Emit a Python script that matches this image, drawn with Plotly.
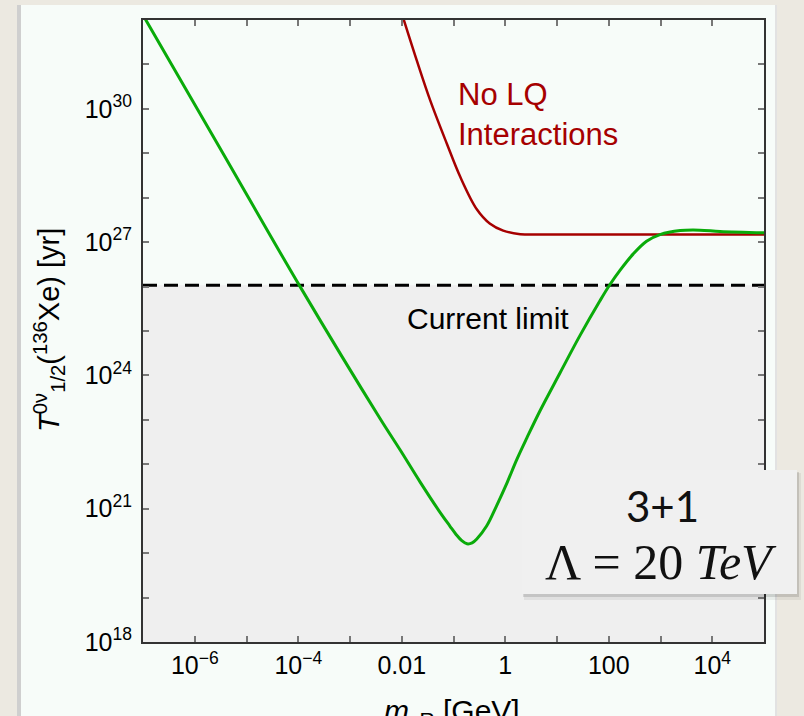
import numpy as np
import plotly.graph_objects as go

# Sterile-neutrino mass [GeV] and 0vbb half-life of 136Xe [yr], stored as log10 values
green_log_mass = [-7.00, -5.45, -3.97, -2.42, -2.03, -1.65, -1.29, -1.07, -0.95, -0.84,
                  -0.74, -0.64, -0.55, -0.36, -0.17, 0.03, 0.22, 0.42, 0.67, 1.06,
                  1.44, 1.83, 2.02, 2.22, 2.47, 2.73, 2.99, 3.38, 3.76, 4.15, 5.00]
green_log_halflife = [32.11, 28.99, 26.01, 23.03, 22.32, 21.61, 20.97, 20.61, 20.42, 20.28,
                      20.21, 20.23, 20.32, 20.61, 21.06, 21.57, 22.10, 22.60, 23.20, 24.06,
                      24.89, 25.68, 26.04, 26.37, 26.73, 27.02, 27.17, 27.26, 27.27, 27.24, 27.21]

red_log_mass = [-2.00, -1.71, -1.45, -1.13, -0.87, -0.55, -0.30, -0.04, 0.29, 0.67,
                2.00, 4.00, 5.00]
red_log_halflife = [32.15, 31.09, 30.19, 29.22, 28.47, 27.74, 27.42, 27.26, 27.18, 27.17,
                    27.17, 27.17, 27.17]

current_limit = 1.07e26          # KamLAND-Zen bound [yr]
mass_range = [1e-7, 1e5]
halflife_floor = 1e18

x_tick_exps = list(range(-6, 5))
x_tick_text = {-6: "10<sup>\u22126</sup>", -4: "10<sup>\u22124</sup>", -2: "0.01",
               0: "1", 2: "100", 4: "10<sup>4</sup>"}
y_tick_exps = list(range(18, 32))
y_tick_text = {18: "10<sup>18</sup>", 21: "10<sup>21</sup>", 24: "10<sup>24</sup>",
               27: "10<sup>27</sup>", 30: "10<sup>30</sup>"}

SANS = "Liberation Sans, Arial, Helvetica, sans-serif"
GREEN = "#0aab0a"
DARKRED = "#a60000"
PANEL = "#f7fcf9"

fig = go.Figure()

# excluded region below the experimental limit
fig.add_trace(go.Scatter(
    x=[mass_range[0], mass_range[1], mass_range[1], mass_range[0]],
    y=[halflife_floor, halflife_floor, current_limit, current_limit],
    fill="toself", fillcolor="#efefef", mode="lines", line=dict(width=0),
    hoverinfo="skip", showlegend=False))

fig.add_trace(go.Scatter(
    x=mass_range, y=[current_limit, current_limit], mode="lines",
    line=dict(color="black", width=3, dash="14px,7px"), showlegend=False))

fig.add_trace(go.Scatter(
    x=np.power(10.0, red_log_mass), y=np.power(10.0, red_log_halflife), mode="lines",
    line=dict(color=DARKRED, width=2.5, shape="spline", smoothing=1.0), showlegend=False))

fig.add_trace(go.Scatter(
    x=np.power(10.0, green_log_mass), y=np.power(10.0, green_log_halflife), mode="lines",
    line=dict(color=GREEN, width=3, shape="spline", smoothing=1.0), showlegend=False))

W, H = 804, 716
L, R, T, B = 143, 40, 20, 74
pw, ph = W - L - R, H - T - B


def px(xp):
    return (xp - L) / pw


def py(yp):
    return (H - B - yp) / ph


axis_common = dict(type="log", ticks="inside", ticklen=6, tickwidth=1.5, tickcolor="#777",
                   showline=True, linewidth=2, linecolor="#333", mirror="ticks",
                   showgrid=False, zeroline=False,
                   tickfont=dict(family=SANS, size=25, color="black"))

fig.update_xaxes(range=[-7, 5], tickvals=[10.0 ** e for e in x_tick_exps],
                 ticktext=[x_tick_text.get(e, "") for e in x_tick_exps],
                 ticklabelstandoff=0, **axis_common)
fig.update_yaxes(range=[18, 32], tickvals=[10.0 ** e for e in y_tick_exps],
                 ticktext=[y_tick_text.get(e, "") for e in y_tick_exps],
                 ticklabelstandoff=4, **axis_common)

shapes = [
    # page panel behind the plot
    dict(type="rect", xref="paper", yref="paper", x0=px(17), x1=px(776), y0=py(740), y1=py(5),
         fillcolor=PANEL, line=dict(width=0), layer="below"),
    dict(type="rect", xref="paper", yref="paper", x0=px(17), x1=px(21), y0=py(740), y1=py(5),
         fillcolor="#cfcfcf", line=dict(width=0), layer="below"),
    dict(type="rect", xref="paper", yref="paper", x0=px(775), x1=px(777), y0=py(740), y1=py(5),
         fillcolor="#e2e2e2", line=dict(width=0), layer="below"),
    # parameter box with soft shadow
    dict(type="rect", xref="paper", yref="paper", x0=px(524), x1=px(801), y0=py(600), y1=py(473),
         fillcolor="rgba(0,0,0,0.06)", line=dict(width=0)),
    dict(type="rect", xref="paper", yref="paper", x0=px(523), x1=px(799), y0=py(597), y1=py(472),
         fillcolor="rgba(0,0,0,0.12)", line=dict(width=0)),
    dict(type="rect", xref="paper", yref="paper", x0=px(522), x1=px(797), y0=py(594), y1=py(470),
         fillcolor="#f0f0f0", line=dict(width=0)),
]

annotations = [
    dict(text="No LQ<br>Interactions", xref="paper", yref="paper", x=px(456), y=py(114),
         xanchor="left", yanchor="middle", align="left", showarrow=False,
         font=dict(family=SANS, size=31, color=DARKRED)),
    dict(text="Current limit", xref="paper", yref="paper", x=px(488), y=py(318),
         xanchor="center", yanchor="middle", showarrow=False,
         font=dict(family=SANS, size=30, color="black")),
    dict(text="3+1", xref="paper", yref="paper", x=px(662), y=py(506),
         xanchor="center", yanchor="middle", showarrow=False,
         font=dict(family="Lato, sans-serif", size=42, color="#111")),
    dict(text="\u039b = 20 <i>TeV</i>", xref="paper", yref="paper", x=px(661), y=py(562),
         xanchor="center", yanchor="middle", showarrow=False,
         font=dict(family="Liberation Serif, Times New Roman, serif", size=50, color="#111")),
    dict(text="<i>T</i><sup>0\u03bd</sup><sub>1/2</sub>(<sup>136</sup>Xe) [yr]",
         xref="paper", yref="paper", x=px(49), y=py(330), textangle=-90,
         xanchor="center", yanchor="middle", showarrow=False,
         font=dict(family=SANS, size=29, color="black")),
    dict(text="<i>m</i><sub>\u03bdR</sub> [GeV]", xref="paper", yref="paper",
         x=px(452), y=py(712), xanchor="center", yanchor="middle", showarrow=False,
         font=dict(family=SANS, size=30, color="black")),
]

fig.update_layout(width=W, height=H, margin=dict(l=L, r=R, t=T, b=B),
                  paper_bgcolor="#ece9e1", plot_bgcolor=PANEL,
                  shapes=shapes, annotations=annotations, showlegend=False)

fig.write_html("out.html")
